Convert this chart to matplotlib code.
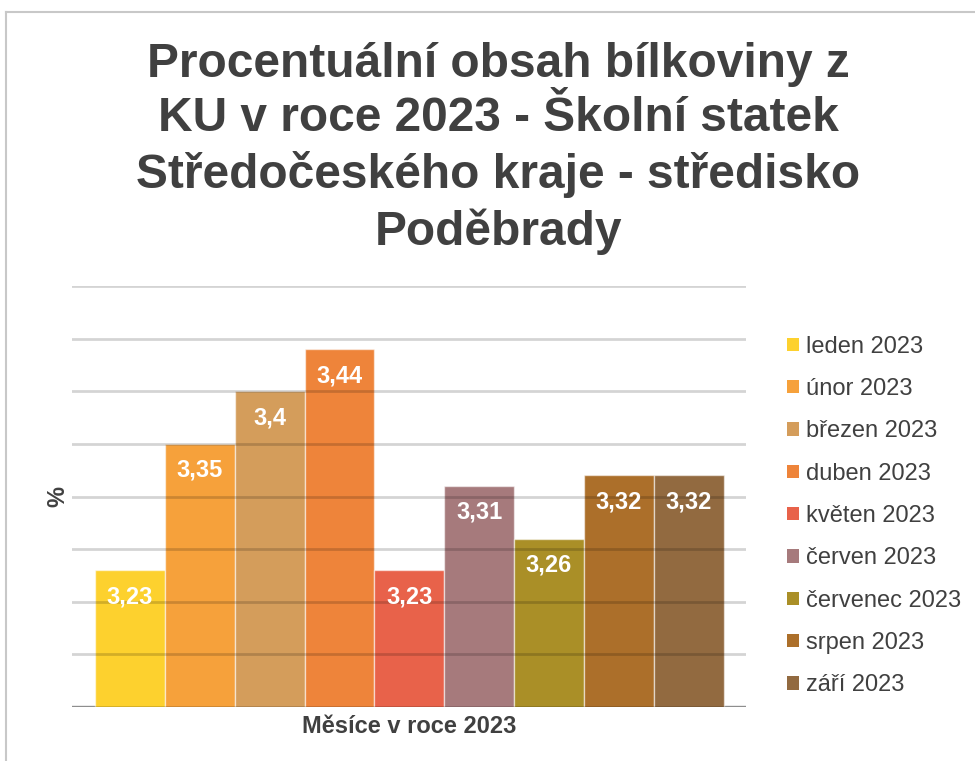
import matplotlib
matplotlib.use("Agg")
import matplotlib.pyplot as plt
from matplotlib.patches import Patch
from matplotlib.lines import Line2D

plt.rcParams['font.family'] = ['Liberation Sans', 'DejaVu Sans']

# data
months = ['leden 2023', 'únor 2023', 'březen 2023', 'duben 2023', 'květen 2023',
          'červen 2023', 'červenec 2023', 'srpen 2023', 'září 2023']
protein = [3.23, 3.35, 3.40, 3.44, 3.23, 3.31, 3.26, 3.32, 3.32]
colors = ['#FDD12E', '#F6A13B', '#D49D5B', '#EE843A', '#E8624A',
          '#A67A7C', '#AA8F27', '#AC6F2A', '#926A40']

title = 'Procentuální obsah bílkoviny z\nKU v roce 2023 - Školní statek\nStředočeského kraje - středisko\nPoděbrady'
text_col = '#404040'

W, H = 975, 761
fig = plt.figure(figsize=(W / 100, H / 100), dpi=100)

# light frame (top and left edges only visible)
fig.add_artist(Line2D([6 / W, 6 / W], [0, 1 - 12 / H], color='#c8c8c8', lw=1.5))
fig.add_artist(Line2D([6 / W, 1], [1 - 12 / H, 1 - 12 / H], color='#c8c8c8', lw=1.5))

# plot area in pixels: x 72..746, y 286..707
ax = fig.add_axes([72 / W, (H - 707) / H, 674 / W, 421 / H])

x = range(len(protein))
bars = ax.bar(x, protein, width=1.0, color=colors, edgecolor=(1, 1, 1, 0.55),
              linewidth=1, zorder=2)

ax.set_ylim(3.10, 3.50)
ax.set_xlim(-0.83, 8.82)
ax.set_yticks([3.10 + 0.05 * i for i in range(9)])
ax.yaxis.grid(True, color='black', alpha=0.17, lw=2, zorder=3)
ax.set_axisbelow(False)
ax.tick_params(left=False, bottom=False, labelleft=False, labelbottom=False)
for s in ax.spines.values():
    s.set_visible(False)
ax.axhline(3.10, color='#a8a8a8', lw=2.5, zorder=1)

for i, v in enumerate(protein):
    ax.annotate(f'{v:g}'.replace('.', ','), (i, v), xytext=(0, -19),
                textcoords='offset points', ha='center', va='center',
                color='white', fontsize=17, fontweight='bold', zorder=4)

ax.set_ylabel('%', fontsize=17, fontweight='bold', color=text_col, labelpad=2)
ax.set_xlabel('Měsíce v roce 2023', fontsize=17, fontweight='bold', color=text_col)
ax.xaxis.set_label_coords((409 - 72) / 674, -0.019)

fig.text(498 / W, 1 - 42 / H, title, ha='center', va='top', fontsize=34.5,
         fontweight='bold', color=text_col, linespacing=1.27)

handles = [Patch(facecolor=c, edgecolor='none') for c in colors]
fig.legend(handles, months, loc='upper left', bbox_to_anchor=(775 / W, 1 - 324 / H),
           frameon=False, fontsize=17, labelcolor=text_col, handlelength=0.5,
           handleheight=0.5, handletextpad=0.3, labelspacing=0.86, borderpad=0)

fig.savefig('out.png', dpi=100)
